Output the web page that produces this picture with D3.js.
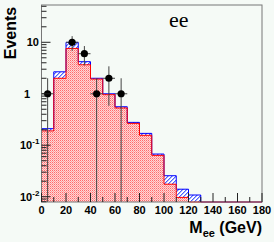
<!DOCTYPE html>
<html>
<head>
<meta charset="utf-8">
<script src="https://cdn.jsdelivr.net/npm/d3@7"></script>
<style>
  body { margin: 0; background: #f5faf6; }
  svg { display: block; }
</style>
</head>
<body>
<div id="chart"></div>
<script>
// histogram bins, 10 GeV wide
var binEdges = [0, 10, 20, 30, 40, 50, 60, 70, 80, 90, 100, 110, 120, 130, 140, 150, 160, 170, 180];
// red (lower) component and stacked total (blue top)
var redValues   = [0.19, 2.0, 7.6, 3.66, 1.93, 0.96, 0.53, 0.266, 0.156, 0.0636, 0.0175, 0.0097, 0, 0, 0, 0, 0, 0];
var totalValues = [0.21, 2.67, 9.96, 4.2, 2.0, 1.0, 0.56, 0.278, 0.17, 0.0675, 0.0256, 0.014, 0.0108, 0, 0, 0, 0, 0];
// observed data
var dataX = [5, 25, 35, 45, 55, 65];
var dataY = [1, 10, 6, 1, 2, 1];
var xTicks = [0, 20, 40, 60, 80, 100, 120, 140, 160, 180];
var yTicks = [0.01, 0.1, 1, 10];

var W = 274, H = 242;
var margin = {top: 5, left: 41.5, right: 12, bottom: 40};
var x0 = margin.left, x1 = W - margin.right, y0 = margin.top, y1 = H - margin.bottom;

var x = d3.scaleLinear().domain([0, 180]).range([x0, x1]);
var y = d3.scaleLog().domain([0.0079, 53]).range([y1, y0]).clamp(true);

var svg = d3.select("#chart").append("svg")
    .attr("width", W).attr("height", H);

svg.append("rect").attr("width", W).attr("height", H).attr("fill", "#f5faf6");

var defs = svg.append("defs");
// red checker fill
var pr = defs.append("pattern").attr("id", "redfill")
    .attr("patternUnits", "userSpaceOnUse").attr("width", 2).attr("height", 2);
pr.append("rect").attr("width", 2).attr("height", 2).attr("fill", "#ffd6d6");
pr.append("rect").attr("x", 0).attr("y", 0).attr("width", 1).attr("height", 1).attr("fill", "#ff6a6a");
pr.append("rect").attr("x", 1).attr("y", 1).attr("width", 1).attr("height", 1).attr("fill", "#ff9e9e");
// blue hatch fill, two pixel diagonal
var pb = defs.append("pattern").attr("id", "bluefill")
    .attr("patternUnits", "userSpaceOnUse").attr("width", 4).attr("height", 4);
pb.append("rect").attr("width", 4).attr("height", 4).attr("fill", "#ffffff");
[0, 1, 2, 3].forEach(function(i) {
    pb.append("rect").attr("x", i).attr("y", 3 - i).attr("width", 1).attr("height", 1)
        .attr("fill", "#4f62ff").attr("shape-rendering", "crispEdges");
    pb.append("rect").attr("x", i).attr("y", (4 - i) % 4).attr("width", 1).attr("height", 1)
        .attr("fill", "#a9b3ff").attr("shape-rendering", "crispEdges");
});

var plot = svg.append("g");

// histogram helpers
function bars(vals) {
    return vals.map(function(v, i) { return {lo: binEdges[i], hi: binEdges[i + 1], v: v}; });
}
function stepPath(vals) {
    var p = "";
    vals.forEach(function(v, i) {
        var yy = v > 0 ? y(v) : y1;
        p += (i === 0 ? "M" + x(binEdges[0]) + "," + y1 + "L" : "L") + x(binEdges[i]) + "," + yy + "L" + x(binEdges[i + 1]) + "," + yy;
    });
    return p;
}

// blue total
plot.selectAll(".tot").data(bars(totalValues).filter(function(d) { return d.v > 0; }))
  .enter().append("rect")
    .attr("x", function(d) { return x(d.lo); })
    .attr("width", function(d) { return x(d.hi) - x(d.lo); })
    .attr("y", function(d) { return y(d.v); })
    .attr("height", function(d) { return y1 - y(d.v); })
    .attr("fill", "url(#bluefill)")
    .attr("shape-rendering", "crispEdges");
// red part
plot.selectAll(".red").data(bars(redValues).filter(function(d) { return d.v > 0; }))
  .enter().append("rect")
    .attr("x", function(d) { return x(d.lo); })
    .attr("width", function(d) { return x(d.hi) - x(d.lo); })
    .attr("y", function(d) { return y(d.v); })
    .attr("height", function(d) { return y1 - y(d.v); })
    .attr("fill", "url(#redfill)")
    .attr("shape-rendering", "crispEdges");

plot.append("path").attr("d", stepPath(totalValues))
    .attr("fill", "none").attr("stroke", "#0000ff").attr("stroke-width", 1);
plot.append("path").attr("d", stepPath(redValues))
    .attr("fill", "none").attr("stroke", "#ff0000").attr("stroke-width", 1);

// data points with sqrt(N) errors
var pts = dataX.map(function(v, i) { return {x: v, y: dataY[i], e: Math.sqrt(dataY[i])}; });
var pg = plot.selectAll(".pt").data(pts).enter().append("g");
pg.append("line")
    .attr("x1", function(d) { return x(d.x); }).attr("x2", function(d) { return x(d.x); })
    .attr("y1", function(d) { return y(d.y + d.e); })
    .attr("y2", function(d) { return d.y - d.e > 0 ? y(d.y - d.e) : y1; })
    .attr("stroke", "#444").attr("stroke-width", 1);
pg.append("line")
    .attr("x1", function(d) { return x(d.x - 5); }).attr("x2", function(d) { return x(d.x + 5); })
    .attr("y1", function(d) { return y(d.y); }).attr("y2", function(d) { return y(d.y); })
    .attr("stroke", "#444").attr("stroke-width", 1);
pg.append("circle")
    .attr("cx", function(d) { return x(d.x); }).attr("cy", function(d) { return y(d.y); })
    .attr("r", 3.6).attr("fill", "#000");

// frame
svg.append("rect").attr("x", x0).attr("y", y0).attr("width", x1 - x0).attr("height", y1 - y0)
    .attr("fill", "none").attr("stroke", "#777").attr("stroke-width", 1);

// x ticks
var xt = svg.append("g");
d3.range(0, 181, 10).forEach(function(v) {
    var len = v % 20 === 0 ? 9 : 5;
    xt.append("line").attr("x1", x(v)).attr("x2", x(v)).attr("y1", y1).attr("y2", y1 - len)
        .attr("stroke", "#222").attr("stroke-width", 1);
});
xt.selectAll("text").data(xTicks).enter().append("text")
    .attr("x", function(d) { return x(d); }).attr("y", y1 + 12)
    .attr("text-anchor", "middle")
    .attr("font-family", "Liberation Sans, Arial, sans-serif").attr("font-weight", "bold")
    .attr("font-size", 11).text(function(d) { return d; });

// y ticks
var yt = svg.append("g");
[-3, -2, -1, 0, 1].forEach(function(p) {
    for (var m = 1; m < 10; m++) {
        var v = m * Math.pow(10, p);
        if (v < 0.0079 || v > 53) continue;
        var len = m === 1 ? 9 : 5;
        yt.append("line").attr("x1", x0).attr("x2", x0 + len).attr("y1", y(v)).attr("y2", y(v))
            .attr("stroke", "#222").attr("stroke-width", 1);
    }
});
yTicks.forEach(function(v) {
    var t = yt.append("text").attr("y", y(v) + 4)
        .attr("font-family", "Liberation Sans, Arial, sans-serif").attr("font-weight", "bold")
        .attr("font-size", 11);
    if (v === 10) { t.attr("x", 39).attr("text-anchor", "end").text("10"); }
    else if (v === 1) { t.attr("x", 30).attr("text-anchor", "end").text("1"); }
    else {
        var p = Math.round(Math.log10(v));
        t.attr("x", 20).text("10");
        t.append("tspan").attr("dy", -5).attr("font-size", 8).text(p);
    }
});

// axis titles
svg.append("text")
    .attr("transform", "translate(16,33) rotate(-90)")
    .attr("text-anchor", "middle")
    .attr("font-family", "Liberation Sans, Arial, sans-serif").attr("font-weight", "bold")
    .attr("font-size", 16).text("Events");

var xl = svg.append("text").attr("x", x1).attr("y", 233).attr("text-anchor", "end")
    .attr("font-family", "Liberation Sans, Arial, sans-serif").attr("font-weight", "bold")
    .attr("font-size", 16);
xl.append("tspan").text("M");
xl.append("tspan").attr("dy", 4).attr("font-size", 11).text("ee");
xl.append("tspan").attr("dy", -4).text(" (GeV)");

svg.append("text").attr("x", 169).attr("y", 27)
    .attr("font-family", "Liberation Serif, Times New Roman, serif")
    .attr("font-size", 22).text("ee");
</script>
</body>
</html>
